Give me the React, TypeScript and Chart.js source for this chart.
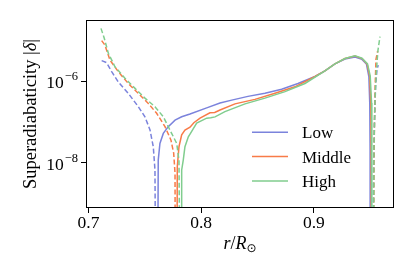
import React, { useEffect, useRef } from 'react';
import { Chart, registerables } from 'chart.js';

Chart.register(...registerables);

// ---------- data ----------
const seriesLabels = ['Low', 'Middle', 'High'];
const seriesColors = ['#7b83dc', '#f87b48', '#80cd8e'];

// Low: inner negative region (|δ|), convective positive region, outer negative region
const lowInnerR = [0.7117, 0.7161, 0.7206, 0.7264, 0.7353, 0.7442, 0.7501, 0.7546, 0.7575, 0.7590, 0.7596];
const lowInnerDelta = [3.16e-6, 2.82e-6, 1.7e-6, 9.5e-7, 5.0e-7, 2.35e-7, 1.33e-7, 6.3e-8, 2.45e-8, 6.6e-9, 1e-11];
const lowMainR = [0.7614, 0.7619, 0.7634, 0.7664, 0.7708, 0.7768, 0.7827, 0.7901, 0.8049, 0.8167, 0.8271, 0.8415, 0.8566, 0.8714, 0.8859, 0.9010, 0.9098, 0.9187, 0.9276, 0.9365, 0.9427, 0.9466, 0.9488, 0.9496, 0.9499, 0.9500];
const lowMainDelta = [1e-11, 1.15e-8, 2.95e-8, 5.2e-8, 7.6e-8, 1.1e-7, 1.33e-7, 1.55e-7, 2.2e-7, 2.9e-7, 3.4e-7, 4.2e-7, 5.0e-7, 6.3e-7, 8.7e-7, 1.29e-6, 1.78e-6, 2.63e-6, 3.47e-6, 3.89e-6, 3.39e-6, 2.63e-6, 1.29e-6, 2.8e-7, 2.04e-8, 1e-11];
const lowOuterR = [0.9524, 0.9529, 0.9538, 0.9548, 0.9560, 0.9571];
const lowOuterDelta = [1e-11, 6.6e-9, 1.1e-7, 7.9e-7, 1.86e-6, 2.45e-6];

// Middle
const midInnerR = [0.7117, 0.7146, 0.7191, 0.7264, 0.7353, 0.7442, 0.7531, 0.7605, 0.7679, 0.7732, 0.7756, 0.7768, 0.7770];
const midInnerDelta = [9.8e-6, 7.6e-6, 3.24e-6, 1.7e-6, 8.7e-7, 5.0e-7, 2.8e-7, 1.62e-7, 7.6e-8, 3.55e-8, 1.7e-8, 5.5e-9, 1e-11];
const midMainR = [0.7785, 0.7788, 0.7803, 0.7827, 0.7856, 0.7901, 0.7935, 0.7990, 0.8078, 0.8120, 0.8167, 0.8300, 0.8477, 0.8655, 0.8832, 0.9010, 0.9098, 0.9187, 0.9276, 0.9365, 0.9427, 0.9472, 0.9495, 0.9505, 0.9508, 0.9509];
const midMainDelta = [1e-11, 7.9e-9, 2.45e-8, 4.8e-8, 6.3e-8, 7.4e-8, 9.5e-8, 1.23e-7, 1.66e-7, 1.7e-7, 1.95e-7, 2.75e-7, 3.55e-7, 5.0e-7, 7.2e-7, 1.29e-6, 1.78e-6, 2.63e-6, 3.55e-6, 4.07e-6, 3.55e-6, 2.63e-6, 1.32e-6, 2.9e-7, 2.04e-8, 1e-11];
const midOuterR = [0.9529, 0.9533, 0.9538, 0.9544, 0.9551, 0.9566];
const midOuterDelta = [1e-11, 6.6e-9, 1.1e-7, 7.6e-7, 3.39e-6, 5.5e-6];

// High
const highInnerR = [0.7111, 0.7140, 0.7176, 0.7235, 0.7324, 0.7413, 0.7501, 0.7590, 0.7664, 0.7738, 0.7783, 0.7803, 0.7812];
const highInnerDelta = [1.95e-5, 1.12e-5, 4.8e-6, 2.24e-6, 1.17e-6, 6.6e-7, 3.8e-7, 2.35e-7, 1.33e-7, 5.2e-8, 2.95e-8, 1.15e-8, 1e-11];
const highMainR = [0.7821, 0.7827, 0.7841, 0.7856, 0.7886, 0.7901, 0.7960, 0.8049, 0.8085, 0.8123, 0.8211, 0.8389, 0.8566, 0.8744, 0.8921, 0.9098, 0.9187, 0.9276, 0.9365, 0.9427, 0.9476, 0.9500, 0.9512, 0.9514, 0.9515];
const highMainDelta = [1e-11, 6.6e-9, 1.15e-8, 2.45e-8, 4.3e-8, 5.0e-8, 9.3e-8, 1.23e-7, 1.25e-7, 1.32e-7, 1.78e-7, 2.75e-7, 3.8e-7, 5.5e-7, 8.7e-7, 1.78e-6, 2.63e-6, 3.55e-6, 4.17e-6, 3.63e-6, 2.63e-6, 1.32e-6, 2.9e-7, 2.04e-8, 1e-11];
const highOuterR = [0.9529, 0.9533, 0.9542, 0.9555, 0.9569, 0.9587];
const highOuterDelta = [1e-11, 2.04e-8, 3.4e-7, 1.86e-6, 5.75e-6, 1.23e-5];

const xMin = 0.6978;
const xMax = 0.9711;
const yMin = 7.71e-10;
const yMax = 3.13e-5;
const xTickValues = [0.7, 0.8, 0.9];
const xTickLabels = ['0.7', '0.8', '0.9'];
const yTickValues = [1e-6, 1e-8];
const yTickBase = '10';
const yTickExponents = ['\u22126', '\u22128'];

const SERIF = "'Liberation Serif', 'Times New Roman', serif";

const toPoints = (r: number[], d: number[]) => r.map((x, i) => ({ x, y: d[i] }));

const seriesParts = [
  { inner: toPoints(lowInnerR, lowInnerDelta), main: toPoints(lowMainR, lowMainDelta), outer: toPoints(lowOuterR, lowOuterDelta) },
  { inner: toPoints(midInnerR, midInnerDelta), main: toPoints(midMainR, midMainDelta), outer: toPoints(midOuterR, midOuterDelta) },
  { inner: toPoints(highInnerR, highInnerDelta), main: toPoints(highMainR, highMainDelta), outer: toPoints(highOuterR, highOuterDelta) },
];

function buildDatasets() {
  const ds: any[] = [];
  seriesParts.forEach((p, i) => {
    const base = {
      borderColor: seriesColors[i],
      borderWidth: 1.5,
      pointRadius: 0,
      fill: false,
      tension: 0,
      order: 3 - i,
    };
    ds.push({ ...base, label: seriesLabels[i], data: p.main });
    ds.push({ ...base, label: seriesLabels[i] + ' (neg, inner)', data: p.inner, borderDash: [5, 2.5] });
    ds.push({ ...base, label: seriesLabels[i] + ' (neg, outer)', data: p.outer, borderDash: [5, 2.5] });
  });
  return ds;
}

const decorPlugin = {
  id: 'decor',
  afterDraw(chart: any) {
    const { ctx, chartArea: a, scales } = chart;
    const xs = scales.x;
    const ys = scales.y;
    ctx.save();
    // frame
    ctx.strokeStyle = '#000';
    ctx.lineWidth = 1;
    ctx.strokeRect(a.left + 0.5, a.top + 0.5, a.right - a.left - 1, a.bottom - a.top - 1);

    ctx.fillStyle = '#000';
    ctx.textBaseline = 'alphabetic';
    const mainFont = `17.5px ${SERIF}`;
    const supFont = `12.5px ${SERIF}`;

    // y tick labels
    yTickValues.forEach((v, i) => {
      const y = ys.getPixelForValue(v);
      ctx.font = mainFont;
      const wb = ctx.measureText(yTickBase).width;
      ctx.font = supFont;
      const we = ctx.measureText(yTickExponents[i]).width;
      const right = a.left - 8;
      const sx = right - we - wb - 1;
      ctx.font = mainFont;
      ctx.textAlign = 'left';
      ctx.fillText(yTickBase, sx, y + 7);
      ctx.font = supFont;
      ctx.fillText(yTickExponents[i], sx + wb + 1, y - 1);
    });

    // x tick labels
    ctx.font = mainFont;
    ctx.textAlign = 'center';
    xTickValues.forEach((v, i) => {
      const x = xs.getPixelForValue(v);
      ctx.fillText(xTickLabels[i], x, a.bottom + 20);
    });

    // x title: r/R_sun
    ctx.textAlign = 'left';
    const itFont = `italic 18px ${SERIF}`;
    const rgFont = `18px ${SERIF}`;
    const subFont = `12px 'DejaVu Sans', ${SERIF}`;
    const pieces = [
      { t: 'r', f: itFont, dy: 0 },
      { t: '/', f: rgFont, dy: 0 },
      { t: 'R', f: itFont, dy: 0 },
      { t: '\u2299', f: subFont, dy: 3 },
    ];
    let total = 0;
    pieces.forEach((p) => { ctx.font = p.f; total += ctx.measureText(p.t).width; });
    let px = (a.left + a.right) / 2 - total / 2;
    const by = a.bottom + 41;
    pieces.forEach((p) => {
      ctx.font = p.f;
      ctx.fillText(p.t, px, by + p.dy);
      px += ctx.measureText(p.t).width;
    });

    // y title
    ctx.save();
    ctx.translate(36, (a.top + a.bottom) / 2);
    ctx.rotate(-Math.PI / 2);
    const tFont = `18.5px ${SERIF}`;
    const tItFont = `italic 18.5px ${SERIF}`;
    const ypieces = [
      { t: 'Superadiabaticity ', f: tFont },
      { t: '|', f: tFont },
      { t: '\u03b4', f: tItFont },
      { t: '|', f: tFont },
    ];
    let yt = 0;
    ypieces.forEach((p) => { ctx.font = p.f; yt += ctx.measureText(p.t).width; });
    let qx = -yt / 2;
    ypieces.forEach((p) => {
      ctx.font = p.f;
      ctx.fillText(p.t, qx, 0);
      qx += ctx.measureText(p.t).width;
    });
    ctx.restore();

    // legend
    const lx0 = a.right - 142;
    const lx1 = a.right - 106;
    const tx = a.right - 92;
    const ly0 = a.top + 112.3;
    const step = 24.3;
    ctx.font = `17px ${SERIF}`;
    seriesLabels.forEach((lab, i) => {
      const y = ly0 + i * step;
      ctx.strokeStyle = seriesColors[i];
      ctx.lineWidth = 1.5;
      ctx.setLineDash([]);
      ctx.beginPath();
      ctx.moveTo(lx0, y);
      ctx.lineTo(lx1, y);
      ctx.stroke();
      ctx.fillStyle = '#000';
      ctx.fillText(lab, tx, y + 6);
    });
    ctx.restore();
  },
};

export default function App() {
  const canvasRef = useRef<HTMLCanvasElement | null>(null);

  useEffect(() => {
    if (!canvasRef.current) return;
    const chart = new Chart(canvasRef.current, {
      type: 'line',
      data: { datasets: buildDatasets() },
      options: {
        animation: false,
        responsive: false,
        devicePixelRatio: 1,
        layout: { padding: { top: 20, right: 21, left: 0, bottom: 0 } },
        plugins: {
          legend: { display: false },
          tooltip: { enabled: false },
        },
        scales: {
          x: {
            type: 'linear',
            min: xMin,
            max: xMax,
            border: { display: false },
            grid: { display: true, drawOnChartArea: false, drawTicks: true, tickLength: 5, color: '#000', lineWidth: 1 },
            ticks: { display: false },
            afterBuildTicks: (s: any) => { s.ticks = xTickValues.map((v) => ({ value: v })); },
            afterFit: (s: any) => { s.height = 69; },
          },
          y: {
            type: 'logarithmic',
            min: yMin,
            max: yMax,
            border: { display: false },
            grid: { display: true, drawOnChartArea: false, drawTicks: true, tickLength: 5, color: '#000', lineWidth: 1 },
            ticks: { display: false },
            afterBuildTicks: (s: any) => { s.ticks = yTickValues.map((v) => ({ value: v })); },
            afterFit: (s: any) => { s.width = 86; },
          },
        },
      },
      plugins: [decorPlugin],
    } as any);
    return () => chart.destroy();
  }, []);

  return (
    <div style={{ position: 'fixed', left: 0, top: 0, width: 415, height: 277, background: '#fff' }}>
      <canvas ref={canvasRef} width={415} height={277} style={{ display: 'block', width: 415, height: 277 }} />
    </div>
  );
}
